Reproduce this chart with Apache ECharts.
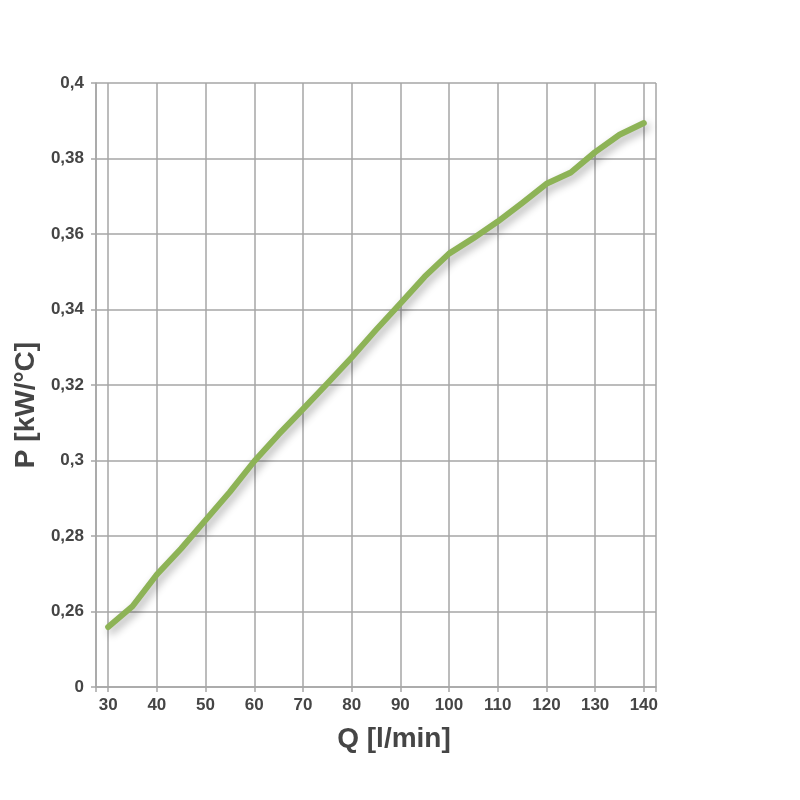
<!DOCTYPE html>
<html>
<head>
<meta charset="utf-8">
<script src="https://cdn.jsdelivr.net/npm/echarts@6/dist/echarts.min.js"></script>
<style>html,body{margin:0;padding:0;background:#fff}#c{width:800px;height:800px}</style>
</head>
<body>
<div id="c"></div>
<script>
const flowQ = [30,35,40,45,50,55,60,65,70,75,80,85,90,95,100,105,110,115,120,125,130,135,140];
const powerP = [0.2559,0.2614,0.2698,0.2767,0.2842,0.2917,0.2998,0.3069,0.3136,0.3204,0.3273,0.3346,0.3416,0.3487,0.3548,0.3589,0.3633,0.3682,0.3733,0.3763,0.3817,0.3863,0.3894];
const xTickLabels = [30,40,50,60,70,80,90,100,110,120,130,140];
const yTickLabels = ['0','0,26','0,28','0,3','0,32','0,34','0,36','0,38','0,4'];
const xTitle = 'Q [l/min]';
const yTitle = 'P [kW/°C]';

const xMin = 27.5, xMax = 142.5;
const gridColor = '#a6a6a6';
const textColor = '#454545';
const font = 'Liberation Sans';

const chart = echarts.init(document.getElementById('c'), null, {renderer:'canvas'});
chart.setOption({
  animation:false,
  backgroundColor:'#fff',
  grid:{left:96,right:144,top:83,bottom:113,containLabel:false},
  xAxis:{
    type:'value',min:xMin,max:xMax,
    name:xTitle,nameLocation:'middle',nameGap:38,
    nameTextStyle:{fontFamily:font,fontWeight:'bold',fontSize:28,color:textColor,padding:[0,0,0,36]},
    axisLine:{show:true,lineStyle:{color:gridColor,width:1.5}},
    axisTick:{show:true,length:5,lineStyle:{color:gridColor,width:1.5},customValues:[xMin].concat(xTickLabels,[xMax])},
    axisLabel:{fontFamily:font,fontWeight:'bold',fontSize:17,color:textColor,margin:10,
      customValues:xTickLabels,formatter:v=>String(v)},
    splitLine:{show:true,lineStyle:{color:gridColor,width:1.5}}
  },
  yAxis:{
    type:'value',min:0.24,max:0.4,interval:0.02,
    name:yTitle,nameLocation:'middle',nameGap:51,
    nameTextStyle:{fontFamily:font,fontWeight:'bold',fontSize:28,color:textColor,padding:[0,40,0,0]},
    axisLine:{show:true,lineStyle:{color:gridColor,width:1.5}},
    axisTick:{show:true,length:5,lineStyle:{color:gridColor,width:1.5}},
    axisLabel:{fontFamily:font,fontWeight:'bold',fontSize:17,color:textColor,margin:12,
      formatter:v=>{const i=Math.round((v-0.24)/0.02);return yTickLabels[i]!==undefined?yTickLabels[i]:'';}},
    splitLine:{show:true,lineStyle:{color:gridColor,width:1.5}}
  },
  series:[{
    type:'line',
    data:flowQ.map((q,i)=>[q,powerP[i]]),
    showSymbol:false,symbol:'none',smooth:false,
    lineStyle:{color:'#8db356',width:6,cap:'round',join:'round',
      shadowColor:'rgba(0,0,0,0.32)',shadowBlur:8,shadowOffsetX:3,shadowOffsetY:4}
  }]
});
</script>
</body>
</html>
